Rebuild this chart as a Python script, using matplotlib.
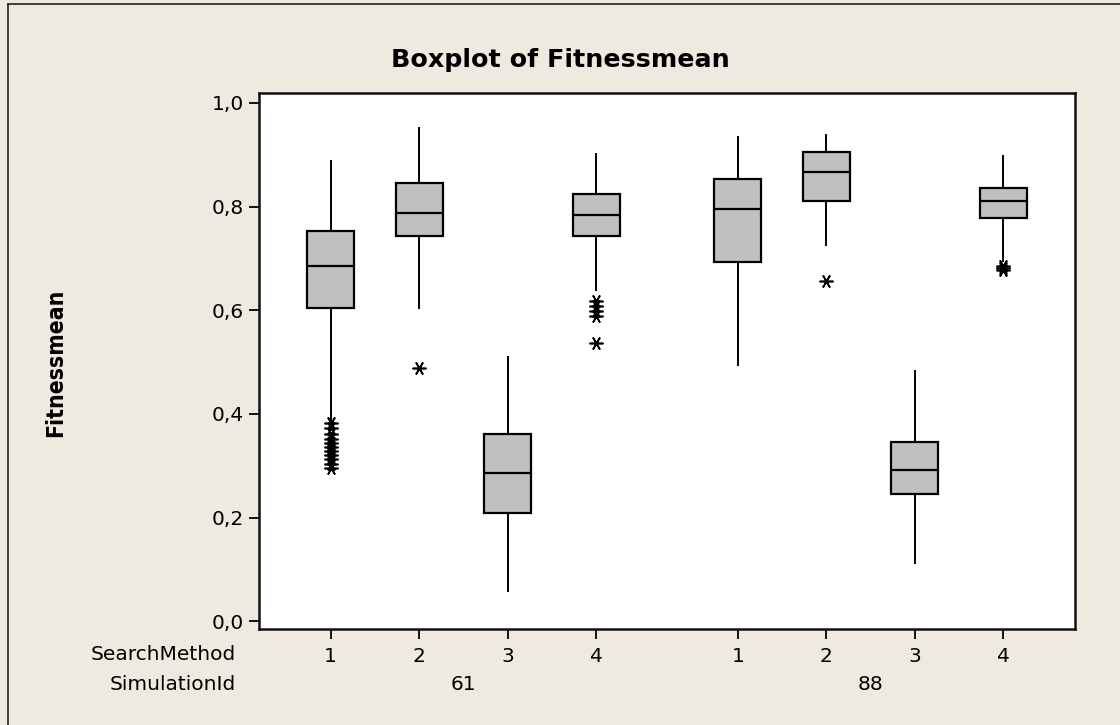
import matplotlib
matplotlib.use("Agg")
import matplotlib.pyplot as plt
from matplotlib.lines import Line2D

# Values
sim_ids = ["61", "88"]
methods = ["1", "2", "3", "4"]
positions = [1, 2, 3, 4, 5.6, 6.6, 7.6, 8.6]

whislo = [0.388, 0.605, 0.058, 0.639, 0.495, 0.726, 0.113, 0.694]
q1 = [0.605, 0.744, 0.209, 0.744, 0.693, 0.810, 0.245, 0.777]
med = [0.686, 0.788, 0.285, 0.784, 0.796, 0.866, 0.292, 0.810]
q3 = [0.752, 0.846, 0.361, 0.824, 0.853, 0.905, 0.346, 0.836]
whishi = [0.887, 0.952, 0.510, 0.902, 0.934, 0.938, 0.483, 0.898]
fliers = [
    [0.382, 0.372, 0.362, 0.352, 0.343, 0.336, 0.328, 0.320, 0.312, 0.303, 0.295],
    [0.488],
    [],
    [0.618, 0.608, 0.598, 0.588, 0.536],
    [],
    [0.656],
    [],
    [0.686, 0.681, 0.677],
]

yticks = [0.0, 0.2, 0.4, 0.6, 0.8, 1.0]

bg = "#EEEAE0"
plt.rcParams["font.family"] = ["DejaVu Sans"]

fig = plt.figure(figsize=(11.2, 7.25), dpi=100, facecolor=bg)
ax = fig.add_axes([259 / 1120, 1 - 629 / 725, 816 / 1120, 536 / 725])
ax.set_facecolor("white")

stats = []
for i in range(len(positions)):
    stats.append(dict(whislo=whislo[i], q1=q1[i], med=med[i], q3=q3[i],
                      whishi=whishi[i], fliers=fliers[i]))

ax.bxp(stats, positions=positions, widths=0.53, patch_artist=True,
       showcaps=False,
       boxprops=dict(facecolor="#C0C0C0", edgecolor="black", linewidth=1.6),
       medianprops=dict(color="black", linewidth=1.6),
       whiskerprops=dict(color="black", linewidth=1.4),
       flierprops=dict(marker=(6, 2, 90), markersize=10, markeredgecolor="black",
                       markerfacecolor="black", markeredgewidth=1.2, linestyle="none"))

ax.set_xlim(0.19, 9.41)
ax.set_ylim(-0.015, 1.019)
ax.set_yticks(yticks)
ax.set_yticklabels([f"{v:.1f}".replace(".", ",") for v in yticks])
ax.set_xticks(positions)
ax.set_xticklabels(methods * 2)
ax.tick_params(axis="both", direction="out", length=7, width=1.3, labelsize=14.5,
               colors="black", pad=4)
ax.tick_params(axis="x", pad=6)
for sp in ax.spines.values():
    sp.set_linewidth(1.8)
    sp.set_color("#111111")

# row labels and group labels under the axis
fig.text(236 / 1120, 1 - 654 / 725, "SearchMethod", ha="right", va="center", fontsize=14.5)
fig.text(236 / 1120, 1 - 684 / 725, "SimulationId", ha="right", va="center", fontsize=14.5)
for k, sid in enumerate(sim_ids):
    xc = (positions[4 * k + 1] + positions[4 * k + 2]) / 2
    ax.text(xc, -(684 - 629) / 536, sid, transform=ax.get_xaxis_transform(),
            ha="center", va="center", fontsize=14.5)

fig.text(0.5, 1 - 60 / 725, "Boxplot of Fitnessmean", ha="center", va="center",
         fontsize=18.3, fontweight="bold")
fig.text(56 / 1120, 1 - 363 / 725, "Fitnessmean", rotation=90, ha="center", va="center",
         fontsize=16.5, fontweight="bold", fontstretch="condensed")

# outer frame lines (left and top visible)
fig.add_artist(Line2D([8 / 1120, 8 / 1120], [0, 1 - 4 / 725], color="#222222",
                      linewidth=1.2, transform=fig.transFigure))
fig.add_artist(Line2D([8 / 1120, 1], [1 - 4 / 725, 1 - 4 / 725], color="#222222",
                      linewidth=1.2, transform=fig.transFigure))

fig.savefig("out.png", dpi=100, facecolor=bg)
